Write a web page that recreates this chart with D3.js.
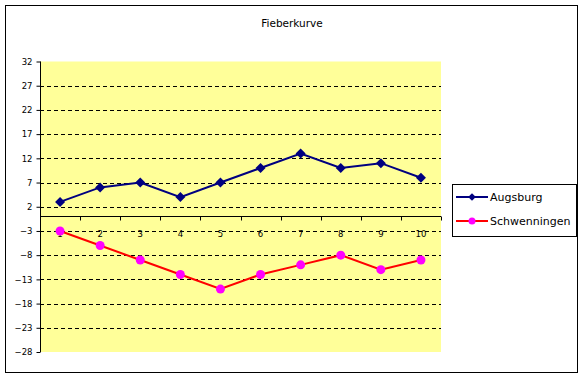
<!DOCTYPE html>
<html><head><meta charset="utf-8">
<script src="https://cdn.jsdelivr.net/npm/d3@7"></script>
<style>body{margin:0;background:#fff}svg{display:block;font-family:"DejaVu Sans",Verdana,sans-serif}</style>
</head><body><svg id="c" width="585" height="378"></svg>
<script>
const categories = [1,2,3,4,5,6,7,8,9,10];
const augsburg = [3,6,7,4,7,10,13,10,11,8];
const schwenningen = [-3,-6,-9,-12,-15,-12,-10,-8,-11,-9];
const yTicks = [32,27,22,17,12,7,2,-3,-8,-13,-18,-23,-28];
const seriesNames = ["Augsburg","Schwenningen"];

const svg = d3.select("#c");
svg.append("rect").attr("x",5.5).attr("y",5.5).attr("width",572).attr("height",367)
  .attr("fill","#fff").attr("stroke","#000").attr("stroke-width",1);
svg.append("text").attr("x",292).attr("y",27).attr("text-anchor","middle")
  .attr("font-size",10.5).text("Fieberkurve");

const L=40,R=441,T=61.5,B=352;
const x = d3.scaleBand().domain(categories).range([L,R]);
const y = d3.scaleLinear().domain([-28,32]).range([B,T]);

svg.append("rect").attr("x",L).attr("y",T).attr("width",R-L).attr("height",B-T).attr("fill","#FFFF99");

svg.append("g").selectAll("line").data(yTicks.filter(d=>d!==32 && d!==-28)).join("line")
  .attr("x1",L).attr("x2",R).attr("y1",d=>Math.round(y(d))+0.5).attr("y2",d=>Math.round(y(d))+0.5)
  .attr("stroke","#000").attr("stroke-dasharray","4,3").attr("stroke-width",1);

const ya = svg.append("g").attr("transform",`translate(${L+0.5},0)`)
  .call(d3.axisLeft(y).tickValues(yTicks).tickSize(4).tickPadding(4).tickFormat(d3.format("d")));
ya.select(".domain").attr("d",`M0,${T}V${B}`);
ya.selectAll("text").attr("font-size",8.5).attr("font-family","DejaVu Sans, sans-serif").attr("fill","#000");

const xa = svg.append("g").attr("transform",`translate(0,${Math.round(y(0))+0.5})`);
xa.append("line").attr("x1",L).attr("x2",R).attr("stroke","#000");
xa.selectAll("line.t").data(categories).join("line").attr("class","t")
  .attr("x1",d=>Math.round(x(d))+0.5).attr("x2",d=>Math.round(x(d))+0.5).attr("y1",0).attr("y2",4).attr("stroke","#000");
xa.append("line").attr("x1",R+0.5).attr("x2",R+0.5).attr("y1",0).attr("y2",4).attr("stroke","#000");
xa.selectAll("text").data(categories).join("text")
  .attr("x",d=>x(d)+x.bandwidth()/2).attr("y",20).attr("text-anchor","middle")
  .attr("font-size",8.5).text(d=>d);

const cx = d=>x(d)+x.bandwidth()/2;
const line = d3.line().x((d,i)=>cx(categories[i])).y(d=>y(d));
svg.append("path").datum(augsburg).attr("d",line).attr("fill","none").attr("stroke","#000080").attr("stroke-width",2);
svg.append("path").datum(schwenningen).attr("d",line).attr("fill","none").attr("stroke","#FF0000").attr("stroke-width",2);
const diamond = d3.symbol().type(d3.symbolSquare).size(50);
svg.append("g").selectAll("path").data(augsburg).join("path")
  .attr("transform",(d,i)=>`translate(${cx(categories[i])},${y(d)}) rotate(45)`).attr("d",diamond).attr("fill","#000080");
svg.append("g").selectAll("circle").data(schwenningen).join("circle")
  .attr("cx",(d,i)=>cx(categories[i])).attr("cy",d=>y(d)).attr("r",4.5).attr("fill","#FF00FF");

const lg = svg.append("g");
lg.append("rect").attr("x",452.5).attr("y",184.5).attr("width",124).attr("height",52).attr("fill","#fff").attr("stroke","#000");
const cols=[["#000080","#000080","d"],["#FF0000","#FF00FF","c"]];
seriesNames.forEach((n,i)=>{
  const yy=197+i*24;
  lg.append("line").attr("x1",456).attr("x2",488).attr("y1",yy).attr("y2",yy).attr("stroke",cols[i][0]).attr("stroke-width",2);
  if(cols[i][2]==="d") lg.append("path").attr("transform",`translate(472,${yy}) rotate(45)`).attr("d",d3.symbol().type(d3.symbolSquare).size(30)).attr("fill",cols[i][1]);
  else lg.append("circle").attr("cx",472).attr("cy",yy).attr("r",3.5).attr("fill",cols[i][1]);
  lg.append("text").attr("x",490).attr("y",yy+4).attr("font-size",11).text(n);
});
</script></body></html>
